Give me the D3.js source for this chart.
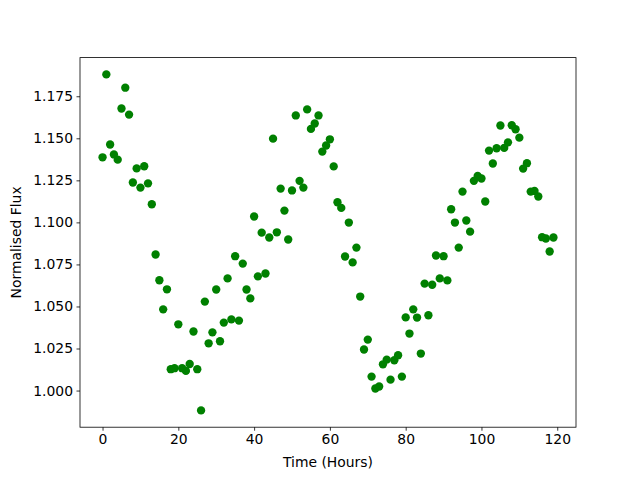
<!DOCTYPE html>
<html>
<head>
<meta charset="utf-8">
<script src="https://cdn.jsdelivr.net/npm/d3@7"></script>
<style>
  body { margin: 0; background: #fff; }
  svg { display: block; }
  text { font-family: "DejaVu Sans", sans-serif; }
</style>
</head>
<body>
<svg id="chart" width="640" height="480"></svg>
<script>
// Data (hour index, normalised flux)
const hours = d3.range(0, 120);
const flux = [
  1.1387, 1.1880, 1.1463, 1.1404, 1.1373, 1.1677, 1.1801, 1.1641, 1.1237, 1.1321,
  1.1207, 1.1334, 1.1232, 1.1108, 1.0809, 1.0656, 1.0483, 1.0602, 1.0127, 1.0133,
  1.0394, 1.0133, 1.0117, 1.0158, 1.0351, 1.0127, 0.9882, 1.0529, 1.0281, 1.0346,
  1.0601, 1.0293, 1.0404, 1.0667, 1.0423, 1.0799, 1.0416, 1.0755, 1.0601, 1.0548,
  1.1035, 1.0679, 1.0939, 1.0696, 1.0910, 1.1498, 1.0941, 1.1201, 1.1070, 1.0898,
  1.1190, 1.1636, 1.1247, 1.1207, 1.1672, 1.1556, 1.1588, 1.1636, 1.1421, 1.1457,
  1.1494, 1.1333, 1.1120, 1.1086, 1.0797, 1.0999, 1.0762, 1.0850, 1.0559, 1.0244,
  1.0303, 1.0083, 1.0012, 1.0024, 1.0156, 1.0184, 1.0065, 1.0180, 1.0210, 1.0083,
  1.0435, 1.0339, 1.0483, 1.0434, 1.0220, 1.0636, 1.0448, 1.0629, 1.0803, 1.0667,
  1.0799, 1.0655, 1.1078, 1.0999, 1.0850, 1.1183, 1.1011, 1.0945, 1.1247, 1.1276,
  1.1261, 1.1124, 1.1427, 1.1350, 1.1441, 1.1576, 1.1443, 1.1476, 1.1578, 1.1554,
  1.1504, 1.1320, 1.1352, 1.1183, 1.1187, 1.1154, 1.0912, 1.0904, 1.0827, 1.0910
];
const xTicks = [0, 20, 40, 60, 80, 100, 120];
const yTicks = [1.000, 1.025, 1.050, 1.075, 1.100, 1.125, 1.150, 1.175];
const xLabel = "Time (Hours)";
const yLabel = "Normalised Flux";
const pointColor = "#008000";

(function () {
  const svg = d3.select("#chart");
  const mL = 80, mR = 576, mT = 57.6, mB = 427.2;

  // matplotlib-like 5% margins
  const xMin = d3.min(hours), xMax = d3.max(hours);
  const xPad = (xMax - xMin) * 0.05;
  const yMin = d3.min(flux), yMax = d3.max(flux);
  const yPad = (yMax - yMin) * 0.05;

  const x = d3.scaleLinear().domain([xMin - xPad, xMax + xPad]).range([mL, mR]);
  const y = d3.scaleLinear().domain([yMin - yPad, yMax + yPad]).range([mB, mT]);

  // points
  svg.append("g")
    .selectAll("circle")
    .data(hours.map((h, i) => [h, flux[i]]))
    .join("circle")
    .attr("cx", d => x(d[0]))
    .attr("cy", d => y(d[1]))
    .attr("r", 4.17)
    .attr("fill", pointColor);

  const fontPx = 13.9;
  const xAxis = svg.append("g")
    .attr("transform", `translate(0,${mB})`)
    .call(d3.axisBottom(x).tickValues(xTicks).tickFormat(d3.format("d"))
      .tickSize(3.5).tickPadding(3.5).tickSizeOuter(0));
  const yAxis = svg.append("g")
    .attr("transform", `translate(${mL},0)`)
    .call(d3.axisLeft(y).tickValues(yTicks).tickFormat(d3.format(".3f"))
      .tickSize(3.5).tickPadding(3.5).tickSizeOuter(0));

  [xAxis, yAxis].forEach(g => {
    g.select(".domain").remove();
    g.selectAll(".tick line").attr("stroke", "#000").attr("stroke-width", 0.8);
    g.selectAll(".tick text").attr("fill", "#000")
      .style("font-family", "'DejaVu Sans', sans-serif")
      .style("font-size", fontPx + "px");
  });

  // frame
  svg.append("rect")
    .attr("x", mL).attr("y", mT)
    .attr("width", mR - mL).attr("height", mB - mT)
    .attr("fill", "none").attr("stroke", "#000").attr("stroke-width", 0.8);

  // labels
  svg.append("text")
    .attr("x", (mL + mR) / 2).attr("y", 467)
    .attr("text-anchor", "middle")
    .style("font-size", fontPx + "px")
    .text(xLabel);
  svg.append("text")
    .attr("transform", `translate(21,${(mT + mB) / 2}) rotate(-90)`)
    .attr("text-anchor", "middle")
    .style("font-size", fontPx + "px")
    .text(yLabel);
})();
</script>
</body>
</html>
